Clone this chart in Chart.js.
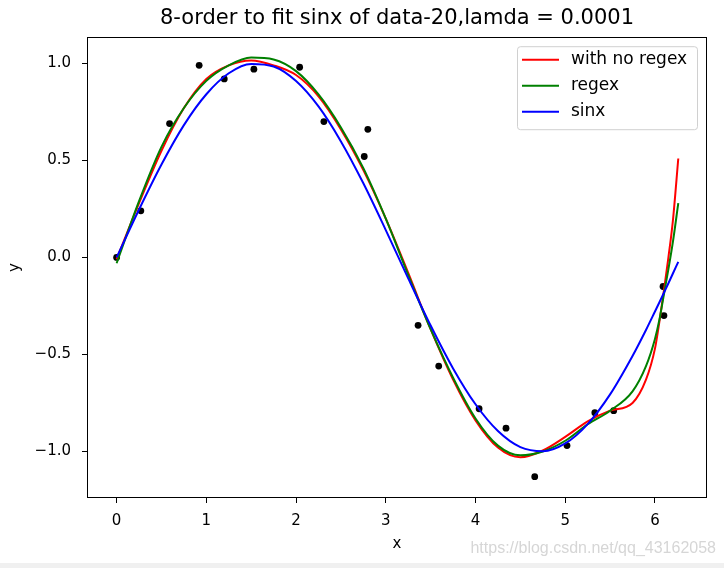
<!DOCTYPE html>
<html>
<head>
<meta charset="utf-8">
<script src="https://cdn.jsdelivr.net/npm/chart.js@4/dist/chart.umd.min.js"></script>
<style>
  html, body { margin: 0; padding: 0; background: #fff; }
</style>
</head>
<body>
<canvas id="fitChart" width="724" height="568"></canvas>
<script>
// values
var titleText = '8-order to fit sinx of data-20,lamda = 0.0001'
var seriesNames = ['with no regex', 'regex', 'sinx']
var seriesColors = ['#ff0000', '#008000', '#0000ff']

var curveX = [0, 0.25, 0.5, 0.75, 1, 1.25, 1.5, 1.75, 2, 2.25, 2.5, 2.75, 3, 3.25, 3.5, 3.75,
              4, 4.25, 4.5, 4.75, 5, 5.25, 5.5, 5.75, 5.9, 6.0, 6.05, 6.1, 6.15, 6.2, 6.26]
var noRegexY = [-0.01, 0.28, 0.55, 0.77, 0.92, 0.99, 1.015, 0.99, 0.94, 0.83, 0.66, 0.45, 0.2, -0.08, -0.37, -0.63,
                -0.84, -0.98, -1.03, -0.995, -0.925, -0.845, -0.79, -0.75, -0.63, -0.47, -0.33, -0.17, 0.0, 0.19, 0.51]
var regexY = [-0.03, 0.29, 0.57, 0.77, 0.91, 0.99, 1.03, 1.02, 0.96, 0.84, 0.67, 0.46, 0.2, -0.09, -0.37, -0.62,
              -0.83, -0.97, -1.02, -1.0, -0.945, -0.86, -0.79, -0.69, -0.56, -0.42, -0.32, -0.19, -0.06, 0.08, 0.28]
var sinY = [0, 0.247, 0.479, 0.682, 0.841, 0.949, 0.997, 0.984, 0.909, 0.778, 0.598, 0.382, 0.141, -0.108, -0.351, -0.572,
            -0.757, -0.895, -0.978, -0.999, -0.959, -0.859, -0.706, -0.508, -0.374, -0.279, -0.231, -0.182, -0.133, -0.083, -0.023]

var dataX = [0, 0.27, 0.59, 0.92, 1.2, 1.53, 2.04, 2.31, 2.76, 2.8,
             3.36, 3.59, 4.04, 4.34, 4.66, 5.02, 5.33, 5.54, 6.09, 6.1]
var dataY = [0.0, 0.24, 0.69, 0.99, 0.92, 0.97, 0.98, 0.7, 0.52, 0.66,
             -0.35, -0.56, -0.78, -0.88, -1.13, -0.97, -0.8, -0.79, -0.15, -0.3]

var xTicks = [0, 1, 2, 3, 4, 5, 6]
var yTicks = [-1.0, -0.5, 0.0, 0.5, 1.0]

function pairs(xs, ys) {
    return xs.map(function (x, i) { return {x: x, y: ys[i]} })
}

function curve(i, ys) {
    return {
        label: seriesNames[i],
        data: pairs(curveX, ys),
        showLine: true,
        borderColor: seriesColors[i],
        backgroundColor: seriesColors[i],
        borderWidth: 2,
        pointRadius: 0,
        cubicInterpolationMode: 'monotone',
        order: 3 - i
    }
}

Chart.defaults.font.family = '"DejaVu Sans", sans-serif'
Chart.defaults.color = '#000'

// box round the axes, legend, watermark
var decor = {
    id: 'decor',
    beforeDraw: function (chart) {
        var ctx = chart.ctx
        ctx.save()
        ctx.fillStyle = '#fff'
        ctx.fillRect(0, 0, chart.width, chart.height)
        ctx.restore()
    },
    afterDraw: function (chart) {
        var ctx = chart.ctx, a = chart.chartArea
        ctx.save()
        ctx.strokeStyle = '#000'
        ctx.lineWidth = 1
        ctx.strokeRect(Math.round(a.left) + 0.5, Math.round(a.top) + 0.5,
                       Math.round(a.right - a.left) - 1, Math.round(a.bottom - a.top) - 1)

        // legend
        var bx = a.right - 190, by = a.top + 9, bw = 180, bh = 83
        ctx.beginPath()
        ctx.roundRect(bx + 0.5, by + 0.5, bw, bh, 3)
        ctx.fillStyle = 'rgba(255,255,255,0.8)'
        ctx.fill()
        ctx.strokeStyle = '#d0d0d0'
        ctx.stroke()
        ctx.font = '17px "DejaVu Sans"'
        ctx.textBaseline = 'middle'
        ctx.fillStyle = '#000'
        for (var i = 0; i < 3; i++) {
            var ry = by + 13.5 + i * 26
            ctx.beginPath()
            ctx.moveTo(bx + 5, ry)
            ctx.lineTo(bx + 42, ry)
            ctx.strokeStyle = seriesColors[i]
            ctx.lineWidth = 2
            ctx.stroke()
            ctx.fillText(seriesNames[i], bx + 54, ry)
        }

        // watermark and bottom strip of the screenshot
        ctx.fillStyle = '#f0f0f0'
        ctx.fillRect(0, chart.height - 5, chart.width, 5)
        ctx.font = '16px "Liberation Sans Narrow", "Liberation Sans"'
        ctx.textAlign = 'right'
        ctx.fillStyle = '#d6d6d6'
        ctx.fillText('https://blog.csdn.net/qq_43162058', 716, 549)
        ctx.restore()
    }
}

var ctx = document.getElementById('fitChart').getContext('2d')
var chart = new Chart(ctx, {
    type: 'scatter',
    data: {
        datasets: [
            curve(0, noRegexY),
            curve(1, regexY),
            curve(2, sinY),
            {
                label: 'data',
                data: pairs(dataX, dataY),
                pointRadius: 3.4,
                pointBackgroundColor: '#000',
                pointBorderWidth: 0,
                showLine: false,
                order: 4
            }
        ]
    },
    options: {
        responsive: false,
        animation: false,
        events: [],
        layout: {padding: {left: 0, right: 17, top: 0, bottom: 0}},
        plugins: {
            legend: {display: false},
            tooltip: {enabled: false},
            title: {
                display: true,
                text: titleText,
                fullSize: false,
                color: '#000',
                font: {size: 21, weight: 'normal'},
                padding: {top: 6, bottom: 6}
            }
        },
        scales: {
            x: {
                type: 'linear',
                min: -0.33,
                max: 6.58,
                afterBuildTicks: function (s) { s.ticks = xTicks.map(function (v) { return {value: v} }) },
                afterFit: function (s) { s.height = 70 },
                border: {display: false},
                grid: {drawOnChartArea: false, drawTicks: true, tickLength: 5, tickColor: '#000', tickWidth: 1},
                ticks: {color: '#000', font: {size: 15}, padding: 9, autoSkip: false, maxRotation: 0,
                        callback: function (v) { return String(v) }},
                title: {display: true, text: 'x', color: '#000', font: {size: 15}, padding: {top: 0, bottom: 15}}
            },
            y: {
                type: 'linear',
                min: -1.24,
                max: 1.135,
                afterBuildTicks: function (s) { s.ticks = yTicks.map(function (v) { return {value: v} }) },
                afterFit: function (s) { s.width = 87 },
                border: {display: false},
                grid: {drawOnChartArea: false, drawTicks: true, tickLength: 5, tickColor: '#000', tickWidth: 1},
                ticks: {color: '#000', font: {size: 15}, padding: 11, autoSkip: false,
                        callback: function (v) { return v.toFixed(1).replace('-', '\u2212') }},
                title: {display: true, text: 'y', color: '#000', font: {size: 15}, padding: {top: 6, bottom: 0}}
            }
        }
    },
    plugins: [decor]
});
</script>
</body>
</html>
